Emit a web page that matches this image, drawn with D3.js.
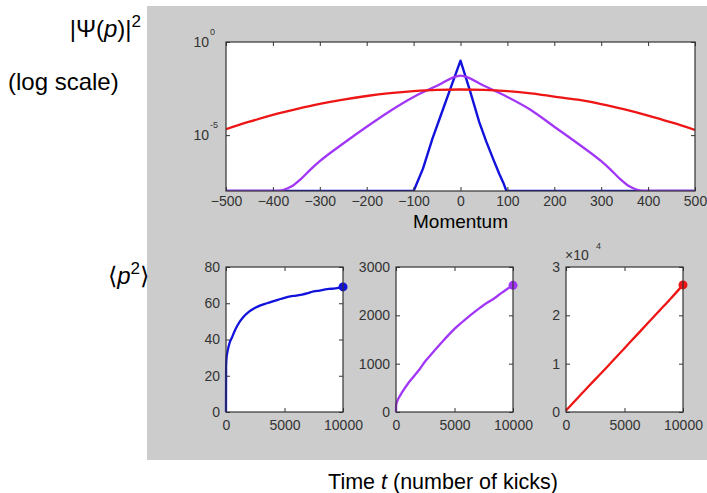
<!DOCTYPE html>
<html><head><meta charset="utf-8">
<script src="https://cdn.jsdelivr.net/npm/d3@7"></script>
<style>
body{margin:0;background:#fff}
svg{display:block;font-family:"Liberation Sans",Arial,Helvetica,sans-serif}
</style>
</head><body>
<svg id="c" width="707" height="493"></svg>
<script>
// ---- Top panel: momentum distributions (log10 of |psi(p)|^2) ----
const momentumTicks = [-500,-400,-300,-200,-100,0,100,200,300,400,500];
const redP = [-500,-450,-400,-350,-300,-250,-200,-150,-100,-50,0,50,100,150,200,250,300,350,400,450,500];
const redLog10 = [-4.68,-4.28,-3.91,-3.60,-3.32,-3.09,-2.90,-2.75,-2.64,-2.57,-2.55,-2.57,-2.64,-2.76,-2.93,-3.10,-3.33,-3.62,-3.95,-4.32,-4.72];
const purpleP = [-500,-390,-375,-360,-340,-320,-300,-250,-200,-150,-100,-50,0,50,100,150,200,250,300,320,340,360,375,390,500];
const purpleLog10 = [-8,-8,-7.92,-7.75,-7.35,-6.85,-6.4,-5.45,-4.55,-3.7,-2.95,-2.35,-1.8,-2.35,-2.95,-3.65,-4.55,-5.45,-6.4,-6.85,-7.35,-7.75,-7.92,-8,-8];
const blueP = [-500,-250,-100,-95,-80,-60,-40,-20,0,20,40,55,70,83,92,98,250,500];
const blueLog10 = [-8,-8,-8,-7.7,-6.8,-5.2,-3.8,-2.4,-1.0,-2.6,-4.3,-5.35,-6.3,-7.1,-7.6,-8,-8,-8];

// ---- Bottom panels: <p^2> versus number of kicks ----
const kickTicks = [0,5000,10000];
const blueT = [0,10,50,150,300,500,800,1000,1500,2000,2500,3000,3500,4000,4500,5000,5500,6000,6500,7000,7500,8000,8500,9000,9500,10000];
const blueP2 = [0,25,30,34,38,41,45.5,48,52.5,55.5,57.5,59,60,61,62,63,63.8,64.2,64.8,65.6,66.5,67,67.6,68,68.4,69];
const purpleT = [0,20,100,300,500,1000,1500,2000,2500,3000,3500,4000,4500,5000,5500,6000,6500,7000,7500,8000,8500,9000,9500,10000];
const purpleP2 = [0,150,220,320,400,580,730,880,1050,1190,1330,1465,1595,1720,1830,1930,2030,2125,2215,2290,2370,2460,2545,2620];
const redT = [0,1000,2000,3000,4000,5000,6000,7000,8000,9000,10000];
const redP2 = [300,2900,5500,8000,10600,13200,15800,18400,21000,23600,26300];
const blueYTicks = [0,20,40,60,80];
const purpleYTicks = [0,1000,2000,3000];
const redYTicks = [0,10000,20000,30000];
const redYTickLabels = ["0","1","2","3"];

const C = {red:"#ee1515", purple:"#a236f7", blue:"#1212dd", frame:"#333", text:"#333", bg:"#cccccc"};
const TICK_FS = "14px";

const svg = d3.select("#c");
svg.append("rect").attr("x",147).attr("y",6).attr("width",560).attr("height",454).attr("fill",C.bg);

// ---------- top plot ----------
const box = {x0:226, x1:695, y0:42, y1:191};
const xP = d3.scaleLinear().domain([-500,500]).range([box.x0, box.x1]);
const yPsi = d3.scaleLog().domain([1e-8,1]).range([box.y1, box.y0]);
const gT = svg.append("g");
gT.append("rect").attr("x",box.x0).attr("y",box.y0).attr("width",box.x1-box.x0).attr("height",box.y1-box.y0).attr("fill","#fff");
svg.append("clipPath").attr("id","clipT").append("rect")
  .attr("x",box.x0).attr("y",box.y0-2).attr("width",box.x1-box.x0).attr("height",box.y1-box.y0+2);

const lineT = (ps, ls, curve) => d3.line().curve(curve).x((d,i)=>xP(ps[i])).y(d=>yPsi(Math.pow(10,d)))(ls);
const gl = gT.append("g").attr("clip-path","url(#clipT)");
gl.append("path").attr("d",lineT(blueP,blueLog10,d3.curveLinear)).attr("fill","none").attr("stroke",C.blue).attr("stroke-width",2.4).attr("stroke-linejoin","round");
gl.append("path").attr("d",lineT(purpleP,purpleLog10,d3.curveMonotoneX)).attr("fill","none").attr("stroke",C.purple).attr("stroke-width",2.3).attr("stroke-linejoin","round");
gl.append("path").attr("d",lineT(redP,redLog10,d3.curveMonotoneX)).attr("fill","none").attr("stroke",C.red).attr("stroke-width",2.3);

function styleAxis(g){
  g.select(".domain").remove();
  g.selectAll(".tick line").attr("stroke",C.frame);
  g.selectAll(".tick text").attr("fill",C.text).style("font-size",TICK_FS).style("font-family","'Liberation Sans',Arial,sans-serif");
}
gT.append("g").attr("transform",`translate(0,${box.y1})`)
  .call(d3.axisBottom(xP).tickValues(momentumTicks).tickSize(-4).tickPadding(5).tickFormat(d3.format("d"))).call(styleAxis);
gT.append("g").attr("transform",`translate(0,${box.y0})`)
  .call(d3.axisTop(xP).tickValues(momentumTicks).tickSize(-4).tickFormat("")).call(styleAxis);
gT.append("g").attr("transform",`translate(${box.x0},0)`)
  .call(d3.axisLeft(yPsi).tickValues([1,1e-5]).tickSize(-4).tickFormat("")).call(styleAxis);
gT.append("g").attr("transform",`translate(${box.x1},0)`)
  .call(d3.axisRight(yPsi).tickValues([1,1e-5]).tickSize(-4).tickFormat("")).call(styleAxis);
[[1,"0"],[1e-5,"-5"]].forEach(([v,e])=>{
  gT.append("text").attr("x",box.x0-17).attr("y",yPsi(v)+5).attr("text-anchor","end")
    .attr("fill",C.text).style("font-size",TICK_FS).text("10");
  gT.append("text").attr("x",box.x0-16).attr("y",yPsi(v)-7).attr("fill",C.text).style("font-size","9px").text(e);
});
gT.append("rect").attr("x",box.x0).attr("y",box.y0).attr("width",box.x1-box.x0).attr("height",box.y1-box.y0)
  .attr("fill","none").attr("stroke",C.frame).attr("stroke-width",1.2);
gT.append("text").attr("x",(box.x0+box.x1)/2).attr("y",228).attr("text-anchor","middle")
  .attr("fill","#000").style("font-size","19px").text("Momentum");

// ---------- bottom panels ----------
const panels = [
  {x0:226, t:blueT, v:blueP2, ymax:80, yt:blueYTicks, yl:d3.format("d"), col:C.blue},
  {x0:396, t:purpleT, v:purpleP2, ymax:3000, yt:purpleYTicks, yl:d3.format("d"), col:C.purple},
  {x0:566, t:redT, v:redP2, ymax:30000, yt:redYTicks, yl:(d,i)=>redYTickLabels[i], col:C.red}
];
const pw = 117, py0 = 267, py1 = 412;
panels.forEach((p,k)=>{
  const x = d3.scaleLinear().domain([0,10000]).range([p.x0, p.x0+pw]);
  const y = d3.scaleLinear().domain([0,p.ymax]).range([py1, py0]);
  const g = svg.append("g");
  g.append("rect").attr("x",p.x0).attr("y",py0).attr("width",pw).attr("height",py1-py0).attr("fill","#fff");
  g.append("g").attr("transform",`translate(0,${py1})`)
    .call(d3.axisBottom(x).tickValues(kickTicks).tickSize(-4).tickPadding(8).tickFormat(d3.format("d"))).call(styleAxis);
  g.append("g").attr("transform",`translate(0,${py0})`)
    .call(d3.axisTop(x).tickValues(kickTicks).tickSize(-4).tickFormat("")).call(styleAxis);
  g.append("g").attr("transform",`translate(${p.x0},0)`)
    .call(d3.axisLeft(y).tickValues(p.yt).tickSize(-4).tickPadding(6).tickFormat(p.yl)).call(styleAxis);
  g.append("g").attr("transform",`translate(${p.x0+pw},0)`)
    .call(d3.axisRight(y).tickValues(p.yt).tickSize(-4).tickFormat("")).call(styleAxis);
  g.append("path").attr("d",d3.line().curve(d3.curveMonotoneX).x((d,i)=>x(p.t[i])).y(d=>y(d))(p.v))
    .attr("fill","none").attr("stroke",p.col).attr("stroke-width",2.3).attr("stroke-linejoin","round");
  g.append("circle").attr("cx",x(p.t[p.t.length-1])).attr("cy",y(p.v[p.v.length-1])).attr("r",4.5).attr("fill",p.col);
  g.append("rect").attr("x",p.x0).attr("y",py0).attr("width",pw).attr("height",py1-py0)
    .attr("fill","none").attr("stroke",C.frame).attr("stroke-width",1.2);
  if(k===2){
    g.append("text").attr("x",p.x0-1).attr("y",py0-7).attr("fill",C.text).style("font-size",TICK_FS).text("\u00d710");
    g.append("text").attr("x",p.x0+30).attr("y",py0-18).attr("fill",C.text).style("font-size","9px").text("4");
  }
});

// ---------- outer labels ----------
const L = svg.append("g").attr("fill","#000").style("font-size","24px");
const t1 = L.append("text").attr("x",141).attr("y",37).attr("text-anchor","end");
t1.append("tspan").text("|\u03a8(");
t1.append("tspan").style("font-style","italic").text("p");
t1.append("tspan").text(")|");
t1.append("tspan").attr("dy",-10).style("font-size","17px").text("2");
L.append("text").attr("x",8).attr("y",90).text("(log scale)");
const t2 = L.append("text").attr("x",149).attr("y",284).attr("text-anchor","end");
t2.append("tspan").text("\u27e8");
t2.append("tspan").style("font-style","italic").text("p");
t2.append("tspan").attr("dy",-10).style("font-size","17px").text("2");
t2.append("tspan").attr("dy",10).text("\u27e9");
const t3 = L.append("text").attr("x",443).attr("y",489).attr("text-anchor","middle").style("font-size","21.5px");
t3.append("tspan").text("Time ");
t3.append("tspan").style("font-style","italic").text("t");
t3.append("tspan").text(" (number of kicks)");
</script>
</body></html>
